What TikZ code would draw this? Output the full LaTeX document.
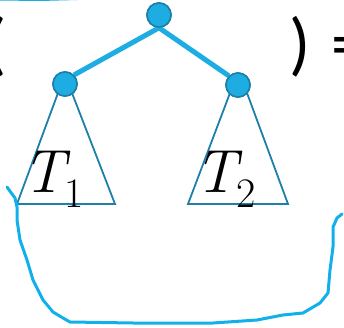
\documentclass[tikz,border=0pt]{standalone}
\usepackage{fontspec}
\newfontfamily\carl{Carlito}
\definecolor{nodeblue}{HTML}{1EADE2}
\definecolor{edgeblue}{HTML}{1E7FA8}
\definecolor{inkblue}{HTML}{12B0EA}
\newcommand{\subtreelabel}[1]{{\itshape T}\kern0pt\raisebox{-14pt}{\fontsize{42}{42}\selectfont #1}}
\begin{document}
\begin{tikzpicture}[x=1pt,y=-1pt,
  treenode/.style={circle,fill=nodeblue,draw=edgeblue,line width=1.6pt,minimum size=24pt,inner sep=0pt},
  treeedge/.style={nodeblue,line width=5pt},
  subtree/.style={draw=edgeblue,line width=1.8pt,line join=miter},
  ink/.style={inkblue,line width=3pt,line cap=round,line join=round},
  bigtext/.style={inner sep=0pt,font=\fontsize{61}{61}\selectfont},
  paren/.style={inner sep=0pt,font=\carl\fontsize{70}{70}\selectfont}]
\useasboundingbox (0,0) rectangle (344,328);
% top ink stroke
\draw[ink] (-3,-1) -- (40,-0.5) -- (78,-1.5);
\draw[ink] (110,-1.5) -- (125,-1.5);
% subtrees
\draw[subtree] (58,93) -- (17,204) -- (115,204) -- (72,93);
\draw[subtree] (230,93) -- (188,204) -- (288,204) -- (247,93);
% nodes
\node[treenode] (root) at (159,15) {};
\node[treenode] (lc) at (65,84) {};
\node[treenode] (rc) at (238,85) {};
\draw[treeedge] (root.south) -- (lc.north east);
\draw[treeedge] (root.south) -- (rc.north west);
\node[treenode] at (root) {};
\node[treenode] at (lc) {};
\node[treenode] at (rc) {};
% labels
\node[bigtext,anchor=base west] (t1) at (22,193) {\subtreelabel{1}};
\node[bigtext,anchor=base west] (t2) at (194,193) {\subtreelabel{2}};
\node[paren] (lp) at (-3.5,47) {(};
\node[paren] (rp) at (300,47) {)};
\node[paren,anchor=west] (eq) at (331,52) {=};
% bottom ink curve
\draw[ink] (7,187) -- (12,194) -- (15,198) -- (17,207) -- (17,220) -- (20,240) -- (27,260) -- (33,280) -- (43,300) -- (53,312) -- (63,318) -- (70,322) -- (133,323) -- (173,323) -- (213,323) -- (257,320) -- (283,315) -- (303,313) -- (320,303) -- (328,293) -- (330,270) -- (333,247) -- (333,227) -- (337,218) -- (342,214);
\end{tikzpicture}
\end{document}
